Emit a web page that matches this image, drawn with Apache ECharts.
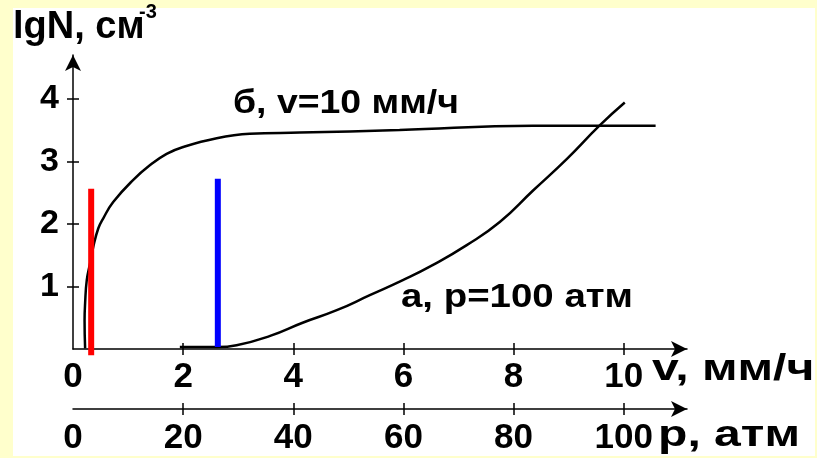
<!DOCTYPE html>
<html><head><meta charset="utf-8">
<script src="https://cdn.jsdelivr.net/npm/echarts@6/dist/echarts.min.js"></script>
<style>
html,body{margin:0;padding:0;background:#FFFFCC;}
#bg{position:absolute;left:13px;top:8px;width:802px;height:448px;background:#fff;}
#c{position:absolute;left:0;top:0;width:817px;height:458px;}
</style>
</head><body><div id="bg"></div><div id="c"></div>
<script>
// Tick labels
const vTicks = [0, 2, 4, 6, 8, 10];
const pTicks = [0, 20, 40, 60, 80, 100];
const yTicks = [1, 2, 3, 4];
// Curve б (v = 10 мм/ч) : [v, lgN]
const curveB = [[0.22,0.01],[0.21,0.46],[0.22,0.73],[0.25,1.10],[0.31,1.37],[0.37,1.64],[0.46,1.93],[0.55,2.09],[0.73,2.35],[1.09,2.70],[1.40,2.94],[1.70,3.12],[2.00,3.23],[2.61,3.37],[3.21,3.44],[4.12,3.46],[5.93,3.50],[8.35,3.57],[10.58,3.57]];
// Curve а (p = 100 атм) : [v, lgN]
const curveA = [[1.94,0.03],[2.63,0.03],[2.97,0.06],[3.58,0.21],[4.17,0.42],[4.79,0.62],[5.39,0.86],[5.99,1.10],[6.53,1.34],[7.15,1.66],[7.75,2.03],[8.35,2.53],[8.97,3.04],[9.56,3.57],[10.02,3.94]];
// Marker lines
const redLine = [[0.33,-0.1],[0.33,2.56]];
const blueLine = [[2.63,0.03],[2.63,2.72]];

const F = "'Liberation Sans', Arial, sans-serif";
const chart = echarts.init(document.getElementById('c'), null, {renderer:'canvas'});
const lineSt = {color:'#000', width:1.5};
const tickOut = (vals) => ({show:true, customValues:vals, length:6, lineStyle:lineSt});
const tickIn = (vals) => ({show:true, inside:true, customValues:vals, length:6, lineStyle:lineSt});
const lbl = (vals, size, margin) => ({show:true, customValues:vals, fontSize:size, fontWeight:'bold', color:'#000', fontFamily:F, margin:margin});
const arrow = {show:true, lineStyle:lineSt, symbol:['none','arrow'], symbolSize:[12,16]};

const txt = (x, y, s, size, sx) => ({type:'text', x:x, y:y, scaleX:sx || 1, style:{text:s, fill:'#000', font:'bold ' + size + 'px ' + F, textVerticalAlign:'middle', verticalAlign:'middle'}});

chart.setOption({
  animation:false,
  backgroundColor:'transparent',
  grid:{left:73, right:130, top:55, bottom:109},
  xAxis:[
    {type:'value', position:'bottom', min:0, max:11.15, axisLine:arrow, axisTick:tickOut([2,4,6,8,10]), axisLabel:lbl(vTicks,35,11), splitLine:{show:false}},
    {type:'value', position:'bottom', min:0, max:11.15, axisLine:{show:false}, axisTick:tickIn([2,4,6,8,10]), axisLabel:{show:false}, splitLine:{show:false}},
    {type:'value', position:'bottom', offset:60, min:0, max:111.5, axisLine:arrow, axisTick:tickOut([20,40,60,80,100]), axisLabel:lbl(pTicks,35,12), splitLine:{show:false}},
    {type:'value', position:'bottom', offset:60, min:0, max:111.5, axisLine:{show:false}, axisTick:tickIn([20,40,60,80,100]), axisLabel:{show:false}, splitLine:{show:false}}
  ],
  yAxis:[
    {type:'value', position:'left', min:0, max:4.7, axisLine:arrow, axisTick:tickOut(yTicks), axisLabel:lbl(yTicks,34,14), splitLine:{show:false}},
    {type:'value', position:'left', min:0, max:4.7, axisLine:{show:false}, axisTick:tickIn(yTicks), axisLabel:{show:false}, splitLine:{show:false}}
  ],
  series:[
    {type:'line', name:'б', data:curveB, smooth:0.45, symbol:'none', lineStyle:{color:'#000', width:2.5}, xAxisIndex:0, yAxisIndex:0},
    {type:'line', name:'а', data:curveA, smooth:0.5, symbol:'none', lineStyle:{color:'#000', width:2.5}, xAxisIndex:0, yAxisIndex:0},
    {type:'line', name:'red', data:redLine, symbol:'none', clip:false, lineStyle:{color:'#ff0000', width:6}, xAxisIndex:0, yAxisIndex:0},
    {type:'line', name:'blue', data:blueLine, symbol:'none', clip:false, lineStyle:{color:'#0000ff', width:6}, xAxisIndex:0, yAxisIndex:0}
  ],
  graphic:[
    txt(13, 28, 'lgN, см', 38),
    txt(139, 12, '-3', 20),
    txt(233, 104, 'б, v=10 мм/ч', 34, 1.1),
    txt(401, 298, 'а, p=100 атм', 34, 1.13),
    txt(652, 370, 'v, мм/ч', 37, 1.3),
    txt(658, 436, 'p, атм', 37, 1.3)
  ]
});
</script>
</body></html>
